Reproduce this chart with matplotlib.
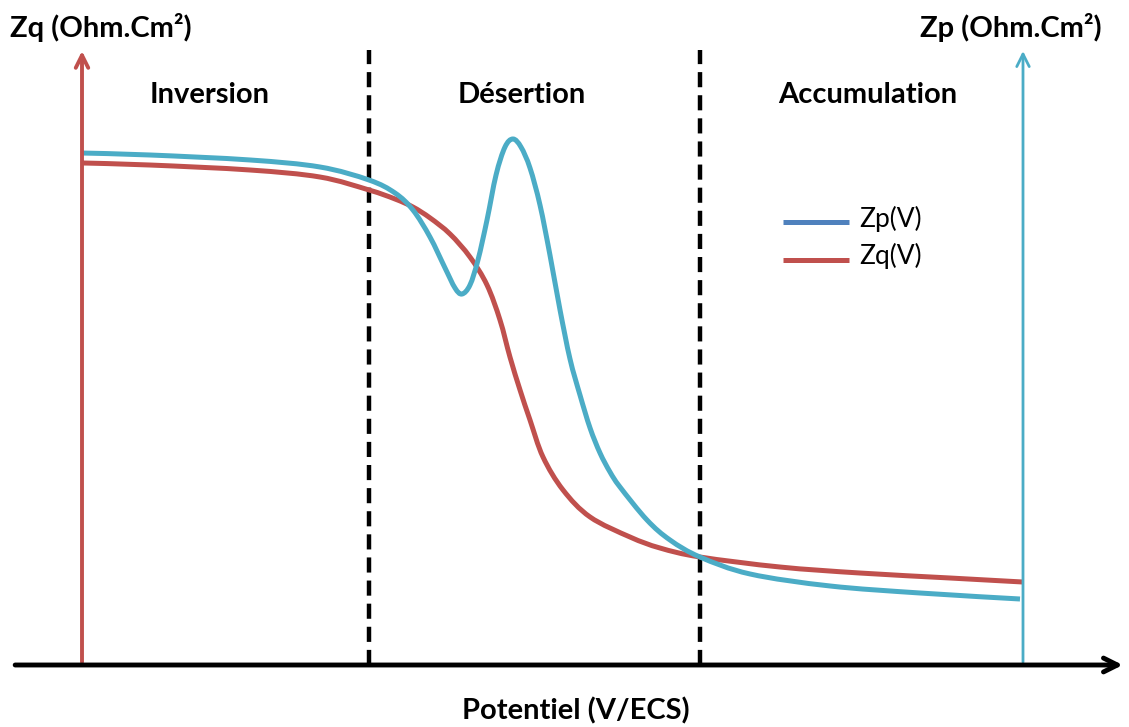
import matplotlib
matplotlib.use("Agg")
import matplotlib.pyplot as plt
from matplotlib.path import Path
from matplotlib.patches import PathPatch
import numpy as np

# Potential (arbitrary units, 0 = left axis, 100 = right axis)
zp_v = [0, 7.23, 17.85, 25.29, 30.50, 33.26, 35.17, 36.98, 38.58, 39.64, 40.38, 41.23, 42.08,
        43.04, 44.00, 44.95, 45.80, 46.65, 47.61, 48.67, 49.73, 50.80, 51.86, 52.92, 53.99,
        55.05, 56.11, 57.17, 60.04, 62.49, 65.67, 70.99, 79.49, 89.05, 99.68]
zp_z = [85.33, 85.0, 84.17, 83.0, 80.83, 78.67, 75.83, 71.33, 66.17, 62.83, 61.83, 63.33, 67.5,
        74.17, 81.67, 86.33, 87.67, 86.33, 82.83, 76.67, 68.33, 59.17, 51.0, 45.0, 39.5,
        35.33, 32.17, 29.67, 24.17, 20.83, 18.0, 15.17, 13.17, 12.0, 11.0]

zq_v = [0, 7.23, 17.85, 25.29, 30.50, 33.26, 35.17, 37.0, 39.11, 41.23, 43.04, 44.42, 45.48,
        46.55, 47.61, 48.99, 51.12, 53.99, 58.24, 61.42, 65.67, 74.18, 82.68, 92.24, 100]
zq_z = [83.67, 83.33, 82.5, 81.33, 79.17, 77.67, 76.33, 74.5, 71.83, 68.0, 63.33, 57.5, 51.33,
        45.83, 40.83, 34.67, 29.17, 24.67, 21.33, 19.5, 18.0, 16.33, 15.33, 14.5, 13.83]

region_bounds = [30.5, 65.67]
region_labels = ["Inversion", "Désertion", "Accumulation"]
region_label_x = [13.6, 46.7, 83.5]

BLUE = "#4bacc6"
RED = "#c0504d"
LEG_BLUE = "#4f81bd"
FONT = "Lato"


def smooth_path(xs, ys):
    """Smooth (Catmull-Rom as cubic Bezier) path through the given points."""
    p = np.column_stack([xs, ys]).astype(float)
    n = len(p)
    verts = [p[0]]
    codes = [Path.MOVETO]
    for i in range(n - 1):
        p0 = p[i - 1] if i > 0 else p[i]
        p1, p2 = p[i], p[i + 1]
        p3 = p[i + 2] if i + 2 < n else p[i + 1]
        c1 = p1 + (p2 - p0) / 6.0
        c2 = p2 - (p3 - p1) / 6.0
        verts += [c1, c2, p2]
        codes += [Path.CURVE4] * 3
    return Path(verts, codes)


fig = plt.figure(figsize=(11.29, 7.27), dpi=100)
ax = fig.add_axes([0, 0, 1, 1])
ax.set_xlim(-82 / 9.41, (1129 - 82) / 9.41)
ax.set_ylim((665 - 727) / 6, 665 / 6)
ax.axis("off")

# Dashed region boundaries
for b in region_bounds:
    ax.plot([b, b], [0, 102.5], color="black", lw=3.2, ls=(0, (3.4, 1.8)), zorder=2)

# Curves
ax.add_patch(PathPatch(smooth_path(zq_v, zq_z), fill=False, edgecolor=RED, lw=3.6,
                       joinstyle="round", capstyle="butt", zorder=4))
ax.add_patch(PathPatch(smooth_path(zp_v, zp_z), fill=False, edgecolor=BLUE, lw=3.6,
                       joinstyle="round", capstyle="butt", zorder=5))

# Axes arrows
ax.annotate("", xy=(0, 102.8), xytext=(0, 0),
            arrowprops=dict(arrowstyle="->,head_length=0.9,head_width=0.45", color=RED, lw=2.8), zorder=6)
ax.annotate("", xy=(100, 102.8), xytext=(100, 0),
            arrowprops=dict(arrowstyle="->,head_length=0.9,head_width=0.45", color=BLUE, lw=2.0), zorder=6)
ax.annotate("", xy=(110.9, 0), xytext=(-7.4, 0),
            arrowprops=dict(arrowstyle="->,head_length=1.0,head_width=0.5", color="black", lw=3.5), zorder=7)

# Labels
ax.text(-7.7, 106.2, "Zq (Ohm.Cm²)", fontsize=21, fontweight="bold", family=FONT, va="center", ha="left")
ax.text(108.4, 106.2, "Zp (Ohm.Cm²)", fontsize=21, fontweight="bold", family=FONT, va="center", ha="right")
for lx, lab in zip(region_label_x, region_labels):
    ax.text(lx, 95.0, lab, fontsize=21, fontweight="bold", family=FONT, va="center", ha="center")
ax.text(52.5, -7.6, "Potentiel (V/ECS)", fontsize=21, fontweight="bold", family=FONT, va="center", ha="center")

# Legend
ax.plot([74.5, 81.5], [73.8, 73.8], color=LEG_BLUE, lw=3.6, solid_capstyle="butt")
ax.plot([74.5, 81.5], [67.5, 67.5], color=RED, lw=3.6, solid_capstyle="butt")
ax.text(82.6, 74.4, "Zp(V)", fontsize=19, family=FONT, va="center", ha="left")
ax.text(82.6, 68.1, "Zq(V)", fontsize=19, family=FONT, va="center", ha="left")

fig.savefig("out.png", dpi=100)
